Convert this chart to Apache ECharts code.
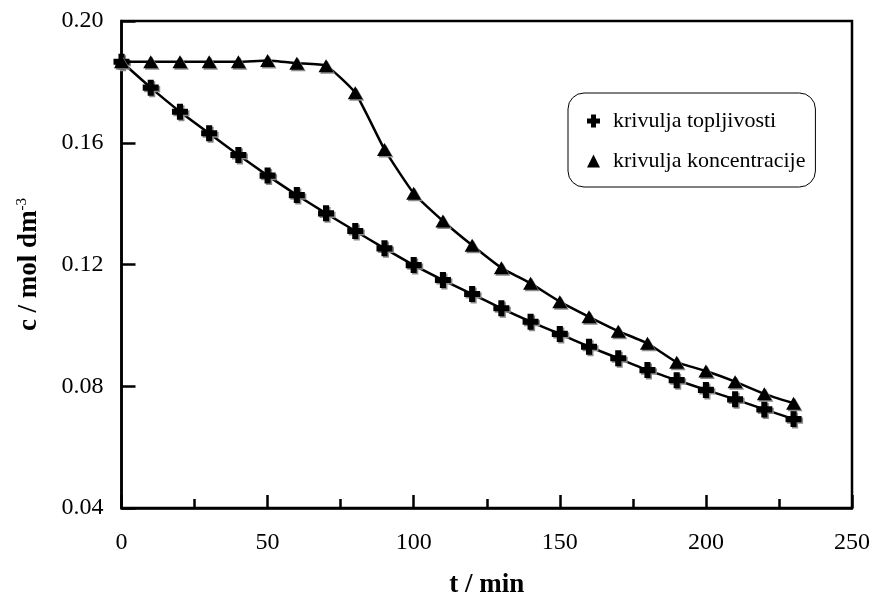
<!DOCTYPE html>
<html>
<head>
<meta charset="utf-8">
<script src="https://cdn.jsdelivr.net/npm/echarts@6/dist/echarts.min.js"></script>
<style>html,body{margin:0;padding:0;background:#fff}#c{width:878px;height:602px}</style>
</head>
<body>
<div id="c"></div>
<script>
const times = [0,10,20,30,40,50,60,70,80,90,100,110,120,130,140,150,160,170,180,190,200,210,220,230];
const topljivost = [0.1866,0.1781,0.1702,0.1631,0.1560,0.1492,0.1428,0.1368,0.1310,0.1253,0.1198,0.1149,0.1103,0.1056,0.1012,0.0972,0.0930,0.0892,0.0853,0.0820,0.0788,0.0757,0.0724,0.0692];
const koncentracija = [0.1866,0.1866,0.1866,0.1866,0.1866,0.1870,0.1861,0.1853,0.1764,0.1578,0.1434,0.1343,0.1263,0.1189,0.1138,0.1078,0.1028,0.0981,0.0941,0.0879,0.0850,0.0815,0.0775,0.0744];
const seriesNames = ['krivulja topljivosti','krivulja koncentracije'];
const xTicks = {min:0,max:250,interval:50};
const yTicks = {min:0.04,max:0.20,interval:0.04};

const font = 'Liberation Serif, Times New Roman, serif';
const crossPath = 'path://M3.1,0 H6.9 V3.1 H10 V6.9 H6.9 V10 H3.1 V6.9 H0 V3.1 H3.1 Z';
const markStyle = {color:'#000', shadowColor:'#8a8a8a', shadowBlur:0, shadowOffsetX:1.5, shadowOffsetY:1.5};

const chart = echarts.init(document.getElementById('c'));
chart.setOption({
  backgroundColor:'#fff',
  animation:false,
  grid:{left:121.5, right:26, top:21, bottom:94, outerBoundsMode:'none', containLabel:false, show:true, borderColor:'#000', borderWidth:2.5, backgroundColor:'transparent'},
  xAxis:{
    type:'value', min:xTicks.min, max:xTicks.max, interval:xTicks.interval,
    name:'t / min', nameLocation:'middle', nameGap:64,
    nameTextStyle:{fontFamily:font, fontSize:27, fontWeight:'bold', color:'#000'},
    axisLine:{show:true, lineStyle:{color:'#000', width:2.5}},
    axisTick:{show:true, inside:true, length:13, lineStyle:{color:'#000', width:2.5}},
    minorTick:{show:true, splitNumber:2, length:9, lineStyle:{color:'#000', width:2.5}},
    splitLine:{show:false},
    axisLabel:{fontFamily:font, fontSize:24, color:'#000', margin:23}
  },
  yAxis:{
    type:'value', min:yTicks.min, max:yTicks.max, interval:yTicks.interval,
    name:'{b|c / mol dm}{s|-3}', nameLocation:'middle', nameGap:77, nameRotate:90,
    nameTextStyle:{
      rich:{
        b:{fontFamily:font, fontSize:27, fontWeight:'bold', color:'#000', lineHeight:30},
        s:{fontFamily:font, fontSize:15, color:'#000', lineHeight:30, verticalAlign:'top', padding:[0,0,12,0]}
      }
    },
    axisLine:{show:true, lineStyle:{color:'#000', width:2.5}},
    axisTick:{show:true, inside:true, length:14, lineStyle:{color:'#000', width:2.5}},
    splitLine:{show:false},
    axisLabel:{fontFamily:font, fontSize:24, color:'#000', margin:18, formatter:v=>v.toFixed(2)}
  },
  legend:{
    orient:'vertical', left:568, top:93,
    padding:[17,10,15,19], itemGap:18, itemWidth:13, itemHeight:13,
    backgroundColor:'#fff', borderColor:'#000', borderWidth:1, borderRadius:16,
    textStyle:{fontFamily:font, fontSize:22, color:'#000', padding:[0,0,0,8]},
    data:[
      {name:seriesNames[0], icon:crossPath, itemStyle:{color:'#000'}},
      {name:seriesNames[1], icon:'triangle', itemStyle:{color:'#000'}}
    ]
  },
  series:[
    {
      name:seriesNames[0], type:'line', smooth:0.15,
      data:times.map((t,i)=>[t,topljivost[i]]),
      symbol:crossPath, symbolSize:16, showAllSymbol:true,
      lineStyle:{color:'#000', width:2.5},
      itemStyle:markStyle, z:3
    },
    {
      name:seriesNames[1], type:'line', smooth:0.15,
      data:times.map((t,i)=>[t,koncentracija[i]]),
      symbol:'triangle', symbolSize:[15,13], showAllSymbol:true,
      lineStyle:{color:'#000', width:2.5},
      itemStyle:markStyle, z:4
    }
  ]
});
</script>
</body>
</html>
